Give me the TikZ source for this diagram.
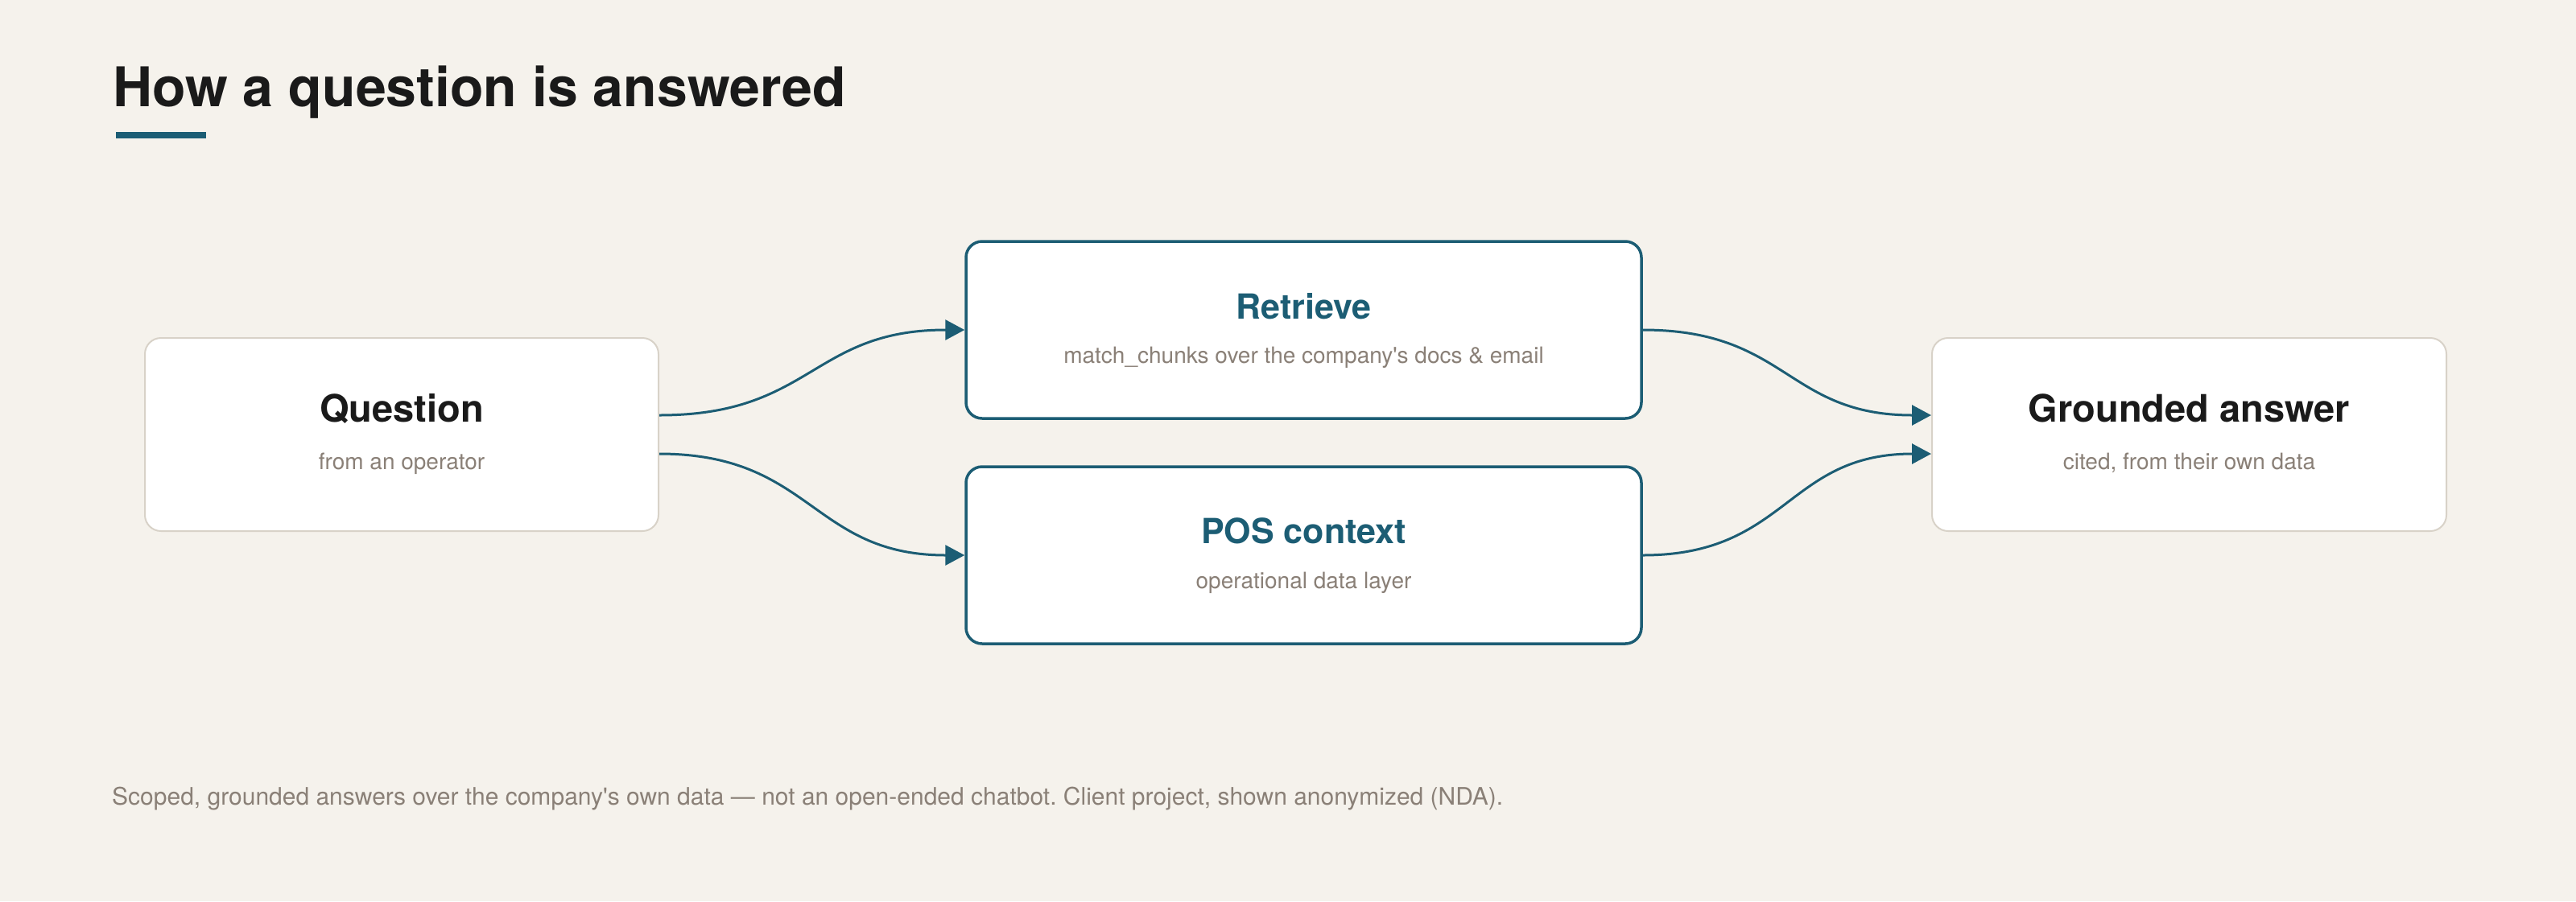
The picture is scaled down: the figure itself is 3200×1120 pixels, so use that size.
\documentclass[tikz,border=0pt]{standalone}
\usepackage{fontspec}
\setmainfont{TeX Gyre Heros}
\usetikzlibrary{arrows.meta,calc}
\definecolor{bgc}{HTML}{F5F2EC}
\definecolor{teal}{HTML}{1C5D74}
\definecolor{subgray}{HTML}{8A8077}
\definecolor{lightborder}{HTML}{D8D2C8}
\definecolor{ink}{HTML}{1A1A1A}
\frenchspacing
\begin{document}
\begin{tikzpicture}[x=1pt,y=-1pt,
  plainbox/.style={draw=lightborder,line width=2pt,fill=white,rounded corners=20pt,inner sep=0pt},
  keybox/.style={draw=teal,line width=3.5pt,fill=white,rounded corners=20pt,inner sep=0pt},
  endtitle/.style={anchor=base,inner sep=0pt,text=ink,font=\fontsize{47}{56}\selectfont\bfseries},
  midtitle/.style={anchor=base,inner sep=0pt,text=teal,font=\fontsize{43}{52}\selectfont\bfseries},
  subtext/.style={anchor=base,inner sep=0pt,text=subgray,font=\fontsize{28}{34}\selectfont},
  conn/.style={draw=teal,line width=3pt,-{Triangle[length=24pt,width=25pt]}}
]
\fill[bgc] (0,0) rectangle (3200,1120);
\useasboundingbox (0,0) rectangle (3200,1120);

% title
\node[anchor=base west,inner sep=0pt,text=ink,font=\fontsize{68}{80}\selectfont\bfseries] (title) at (140,132) {How a question is answered};
\fill[teal] (144,164) rectangle (256,172);

% boxes
\node[plainbox,minimum width=638pt,minimum height=240pt] (q) at (499,540) {};
\node[keybox,minimum width=839pt,minimum height=220pt] (r) at (1619.5,410) {};
\node[keybox,minimum width=839pt,minimum height=220pt] (p) at (1619.5,690) {};
\node[plainbox,minimum width=639pt,minimum height=240pt] (g) at (2719.5,540) {};

% texts
\node[endtitle] (qt) at (499,524) {Question};
\node[subtext] (qs) at (499,583) {from an operator};
\node[midtitle] (rt) at (1619.5,396) {Retrieve};
\node[subtext] (rs) at (1619.5,451) {match\_chunks over the company\textquotesingle s docs \& email};
\node[midtitle] (pt) at (1619.5,675) {POS context};
\node[subtext] (ps) at (1619.5,731) {operational data layer};
\node[endtitle] (gt) at (2719.5,524) {Grounded answer};
\node[subtext] (gs) at (2719.5,583) {cited, from their own data};

% connector end points
\coordinate (q1) at ($(q.east)+(0,-24)$);
\coordinate (q2) at ($(q.east)+(0,24)$);
\coordinate (g1) at ($(g.west)+(0,-24)$);
\coordinate (g2) at ($(g.west)+(0,24)$);

\draw[conn] (q1) .. controls +(190,0) and +(-190,0) .. (r.west);
\draw[conn] (q2) .. controls +(190,0) and +(-190,0) .. (p.west);
\draw[conn] (r.east) .. controls +(180,0) and +(-180,0) .. (g1);
\draw[conn] (p.east) .. controls +(180,0) and +(-180,0) .. (g2);

% footer
\node[anchor=base west,inner sep=0pt,text=subgray,font=\fontsize{30}{36}\selectfont] (foot) at (139,1000) {Scoped, grounded answers over the company\textquotesingle s own data — not an open-ended chatbot. Client project, shown anonymized (NDA).};
\end{tikzpicture}
\end{document}
